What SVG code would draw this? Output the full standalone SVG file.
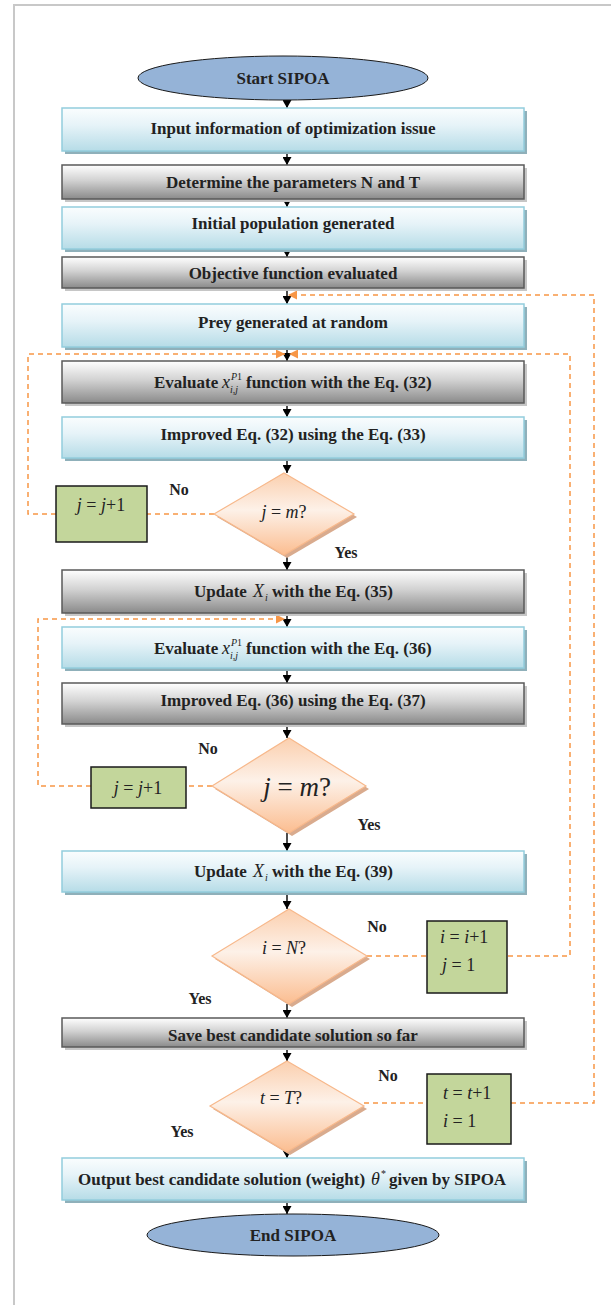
<svg xmlns="http://www.w3.org/2000/svg" width="611" height="1305" viewBox="0 0 611 1305">
<style>
.t{font-family:"Liberation Serif","Times New Roman",serif;font-weight:bold;font-size:17px;fill:#222;text-anchor:middle}
.ts{font-family:"Liberation Serif","Times New Roman",serif;font-weight:bold;font-size:17px;fill:#222}
.lb{font-family:"Liberation Serif","Times New Roman",serif;font-weight:bold;font-size:16px;fill:#222;text-anchor:middle}
.m{font-family:"Liberation Serif","Times New Roman",serif;font-style:italic;font-size:18px;fill:#222}
.sm{font-family:"Liberation Serif","Times New Roman",serif;font-style:italic;font-size:10px;fill:#222}
.u{font-style:normal}
.blue{fill:url(#gBlue);stroke:#93cddd;stroke-width:1.5}
.blueSh{fill:#8fb0ba}
.gray{fill:url(#gGray);stroke:#5a5a5a;stroke-width:1.5}
.graySh{fill:#c6c6c6}
.dia{fill:url(#gDia);stroke:#f7b88b;stroke-width:1.2}
.diaSh{fill:#d9ab8e}
.green{fill:#c3d69b;stroke:#1a1a1a;stroke-width:1.5}
.ell{fill:#95b3d7;stroke:#1a1a1a;stroke-width:1}
.arr{stroke:#000;stroke-width:1.4;fill:none;marker-end:url(#ah)}
.dash{stroke:#f79646;stroke-width:1.5;fill:none;stroke-dasharray:5,4}
.dashA{stroke:#f79646;stroke-width:1.5;fill:none;stroke-dasharray:5,4;marker-end:url(#ahO)}
</style>
<defs>
<linearGradient id="gBlue" x1="0" y1="0" x2="0" y2="1">
<stop offset="0" stop-color="#fafdfe"/><stop offset="0.4" stop-color="#e6f3f8"/><stop offset="1" stop-color="#b6dce7"/>
</linearGradient>
<linearGradient id="gGray" x1="0" y1="0" x2="0" y2="1">
<stop offset="0" stop-color="#ffffff"/><stop offset="0.45" stop-color="#d2d2d2"/><stop offset="1" stop-color="#8a8a8a"/>
</linearGradient>
<linearGradient id="gDia" x1="0" y1="0" x2="0" y2="1">
<stop offset="0" stop-color="#fbcfae"/><stop offset="0.45" stop-color="#fdf1e8"/><stop offset="1" stop-color="#fbbd90"/>
</linearGradient>
<marker id="ah" markerUnits="userSpaceOnUse" markerWidth="8" markerHeight="9" refX="8" refY="4.5" orient="auto">
<path d="M0,0 L8,4.5 L0,9 z" fill="#000"/>
</marker>
<marker id="ahO" markerUnits="userSpaceOnUse" markerWidth="9" markerHeight="9" refX="9" refY="4.5" orient="auto">
<path d="M0,0 L9,4.5 L0,9 z" fill="#f79646"/>
</marker>
</defs>
<rect width="611" height="1305" fill="#fff"/>
<g id="frame" stroke="#c8c8c8" stroke-width="2" fill="none">
<path d="M611,5 H14 V1305"/>
</g>

<g id="connectors">
<path class="arr" d="M287,100 V108"/>
<path class="arr" d="M287,151 V165"/>
<path class="arr" d="M287,199 V207"/>
<path class="arr" d="M287,249 V257"/>
<path class="arr" d="M287,288 V304"/>
<path class="arr" d="M287,347 V361"/>
<path class="arr" d="M287,403 V417"/>
<path class="arr" d="M287,458 V473"/>
<path class="arr" d="M287,555 V570"/>
<path class="arr" d="M287,613 V627"/>
<path class="arr" d="M287,668 V683"/>
<path class="arr" d="M287,724 V738"/>
<path class="arr" d="M287,833 V851"/>
<path class="arr" d="M287,892 V909"/>
<path class="arr" d="M287,1004 V1018"/>
<path class="arr" d="M287,1047 V1061"/>
<path class="arr" d="M287,1150 V1158"/>
<path class="arr" d="M287,1200 V1214"/>
<path class="dash" d="M364,1103 H427"/>
<path class="dashA" d="M511,1103 H594 V295 H288"/>
<path class="dash" d="M367,956 H426"/>
<path class="dashA" d="M508,956 H570 V354 H289"/>
<path class="dash" d="M214,514 H147"/>
<path class="dashA" d="M56,514 H28 V354 H285"/>
<path class="dash" d="M212,786 H186"/>
<path class="dashA" d="M91,786 H38 V619 H285"/>
</g>

<g id="start">
<ellipse class="ell" cx="283" cy="78" rx="145" ry="22"/>
<text class="t" x="283" y="84">Start SIPOA</text>
</g>

<g id="n1">
<rect class="blueSh" x="65" y="111" width="462" height="43"/>
<rect class="blue" x="62" y="108" width="462" height="43"/>
<text class="t" x="293" y="134">Input information of optimization issue</text>
</g>
<g id="n2">
<rect class="graySh" x="65" y="168" width="462" height="34"/>
<rect class="gray" x="62" y="165" width="462" height="34"/>
<text class="t" x="293" y="188">Determine the parameters N and T</text>
</g>
<g id="n3">
<rect class="blueSh" x="65" y="210" width="462" height="42"/>
<rect class="blue" x="62" y="207" width="462" height="42"/>
<text class="t" x="293" y="229">Initial population generated</text>
</g>
<g id="n4">
<rect class="graySh" x="65" y="260" width="462" height="31"/>
<rect class="gray" x="62" y="257" width="462" height="31"/>
<text class="t" x="293" y="279">Objective function evaluated</text>
</g>
<g id="n5">
<rect class="blueSh" x="65" y="307" width="462" height="43"/>
<rect class="blue" x="62" y="304" width="462" height="43"/>
<text class="t" x="293" y="328">Prey generated at random</text>
</g>
<g id="n6">
<rect class="graySh" x="65" y="364" width="462" height="42"/>
<rect class="gray" x="62" y="361" width="462" height="42"/>
<text class="ts" x="154" y="388">Evaluate</text>
<text class="m" x="222" y="388">x</text>
<text class="sm" x="231" y="380">P<tspan class="u">1</tspan></text>
<text class="sm" x="230" y="393">i<tspan class="u">,</tspan>j</text>
<text class="ts" x="246" y="388">function with the Eq. (32)</text>
</g>
<g id="n7">
<rect class="blueSh" x="65" y="420" width="462" height="41"/>
<rect class="blue" x="62" y="417" width="462" height="41"/>
<text class="t" x="293" y="440">Improved Eq. (32) using the Eq. (33)</text>
</g>
<g id="d1">
<polygon class="diaSh" points="287,476 357,517 287,558 217,517"/>
<polygon class="dia" points="284,473 354,514 284,555 214,514"/>
<text class="m" x="284" y="518" text-anchor="middle">j<tspan class="u"> = </tspan>m<tspan class="u">?</tspan></text>
</g>
<g id="g1">
<rect class="green" x="56" y="486" width="91" height="56"/>
<text class="m" x="101" y="511" text-anchor="middle">j<tspan class="u"> = </tspan>j<tspan class="u">+1</tspan></text>
</g>
<g id="n8">
<rect class="graySh" x="65" y="573" width="462" height="43"/>
<rect class="gray" x="62" y="570" width="462" height="43"/>
<text class="ts" x="194" y="597">Update</text>
<text class="m" x="253" y="597">X</text>
<text class="sm" x="265" y="601">i</text>
<text class="ts" x="272" y="597">with the Eq. (35)</text>
</g>
<g id="n9">
<rect class="blueSh" x="65" y="630" width="462" height="41"/>
<rect class="blue" x="62" y="627" width="462" height="41"/>
<text class="ts" x="154" y="654">Evaluate</text>
<text class="m" x="222" y="654">x</text>
<text class="sm" x="231" y="646">P<tspan class="u">1</tspan></text>
<text class="sm" x="230" y="659">i<tspan class="u">,</tspan>j</text>
<text class="ts" x="246" y="654">function with the Eq. (36)</text>
</g>
<g id="n10">
<rect class="graySh" x="65" y="686" width="462" height="41"/>
<rect class="gray" x="62" y="683" width="462" height="41"/>
<text class="t" x="293" y="706">Improved Eq. (36) using the Eq. (37)</text>
</g>
<g id="d2">
<polygon class="diaSh" points="292,741 369,789 292,836 215,789"/>
<polygon class="dia" points="289,738 366,786 289,833 212,786"/>
<text class="m" x="297" y="796" text-anchor="middle" style="font-size:27px">j<tspan class="u"> = </tspan>m<tspan class="u">?</tspan></text>
</g>
<g id="g2">
<rect class="green" x="91" y="767" width="95" height="41"/>
<text class="m" x="138" y="794" text-anchor="middle">j<tspan class="u"> = </tspan>j<tspan class="u">+1</tspan></text>
</g>
<g id="n11">
<rect class="blueSh" x="65" y="854" width="462" height="41"/>
<rect class="blue" x="62" y="851" width="462" height="41"/>
<text class="ts" x="194" y="877">Update</text>
<text class="m" x="253" y="877">X</text>
<text class="sm" x="265" y="881">i</text>
<text class="ts" x="272" y="877">with the Eq. (39)</text>
</g>
<g id="d3">
<polygon class="diaSh" points="292,912 370,959 292,1007 215,959"/>
<polygon class="dia" points="289,909 367,956 289,1004 212,956"/>
<text class="m" x="284" y="954" text-anchor="middle">i<tspan class="u"> = </tspan>N<tspan class="u">?</tspan></text>
</g>
<g id="g3">
<rect class="green" x="427" y="921" width="80" height="72"/>
<text class="m" x="440" y="943">i<tspan class="u"> = </tspan>i<tspan class="u">+1</tspan></text>
<text class="m" x="442" y="971">j<tspan class="u"> = 1</tspan></text>
</g>
<g id="n12">
<rect class="graySh" x="65" y="1021" width="462" height="29"/>
<rect class="gray" x="62" y="1018" width="462" height="29"/>
<text class="t" x="293" y="1041">Save best candidate solution so far</text>
</g>
<g id="d4">
<polygon class="diaSh" points="290,1064 367,1109 290,1155 213,1109"/>
<polygon class="dia" points="287,1061 364,1106 287,1152 210,1106"/>
<text class="m" x="281" y="1104" text-anchor="middle">t<tspan class="u"> = </tspan>T<tspan class="u">?</tspan></text>
</g>
<g id="g4">
<rect class="green" x="427" y="1074" width="84" height="70"/>
<text class="m" x="443" y="1099">t<tspan class="u"> = </tspan>t<tspan class="u">+1</tspan></text>
<text class="m" x="443" y="1127">i<tspan class="u"> = 1</tspan></text>
</g>
<g id="n13">
<rect class="blueSh" x="65" y="1161" width="462" height="42"/>
<rect class="blue" x="62" y="1158" width="462" height="42"/>
<text class="ts" x="78" y="1185">Output best candidate solution (weight)</text>
<text class="m" x="371" y="1185">θ</text>
<text class="sm u" x="381" y="1177">*</text>
<text class="ts" x="389" y="1185">given by SIPOA</text>
</g>
<g id="end">
<ellipse class="ell" cx="293" cy="1235" rx="146" ry="21"/>
<text class="t" x="293" y="1241">End SIPOA</text>
</g>

<g id="labels">
<text class="lb" x="179" y="495">No</text>
<text class="lb" x="346" y="558">Yes</text>
<text class="lb" x="208" y="754">No</text>
<text class="lb" x="369" y="830">Yes</text>
<text class="lb" x="377" y="932">No</text>
<text class="lb" x="200" y="1004">Yes</text>
<text class="lb" x="388" y="1081">No</text>
<text class="lb" x="182" y="1137">Yes</text>
</g>
</svg>
